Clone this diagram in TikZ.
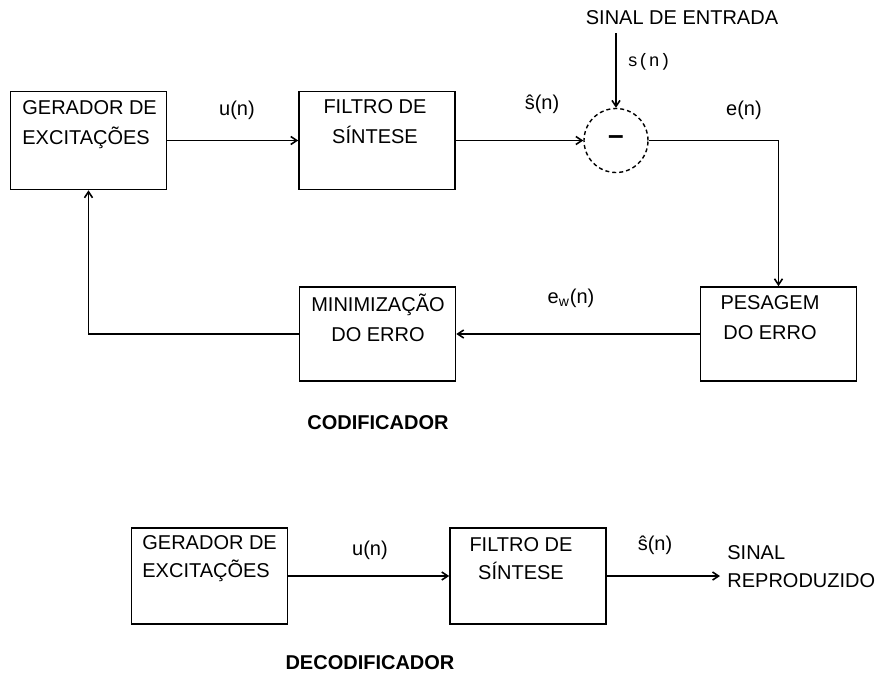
\documentclass[tikz,border=0pt]{standalone}
\usepackage{fontspec}
\setmainfont{Liberation Sans}
\setmonofont{Liberation Mono}
\usetikzlibrary{arrows.meta,positioning}

\begin{document}
\begin{tikzpicture}[x=0.5pt, y=-0.5pt, font=\fontsize{10}{15}\selectfont,
  blk/.style={draw, line width=0.8pt, inner sep=0pt, minimum width=78pt, minimum height=49pt},
  txt/.style={inner sep=0pt, align=center},
  arr/.style={line width=0.8pt, -{Straight Barb[length=3pt,width=4pt]}},
  sumc/.style={circle, draw, dash pattern=on 2pt off 1.5pt, line width=0.7pt,
    minimum size=32pt, inner sep=0pt, font=\fontsize{14}{14}\selectfont\bfseries}]
  \useasboundingbox (0,0) rectangle (885,682);

  % codificador
  \node[blk] (gen) at (88.5,140.5) {};
  \node[txt, align=left, anchor=west] (gentxt) at (22,125) {GERADOR DE\\EXCITAÇÕES};
  \node[blk] (filt) at (377,140.5) {};
  \node[txt] (filttxt) at (375,122) {FILTRO DE\\SÍNTESE};
  \node[sumc] (sum) at (616,140.5) {–};
  \node[txt] (entrada) at (682,18) {SINAL DE ENTRADA};
  \coordinate (in) at (616,33);
  \node[blk, minimum height=47pt] (pes) at (778.5,334) {};
  \node[txt] (pestxt) at (770,318) {PESAGEM\\DO ERRO};
  \node[blk, minimum height=47pt] (min) at (377.5,334) {};
  \node[txt] (mintxt) at (378,318) {MINIMIZAÇÃO\\DO ERRO};

  \draw[arr] (gen.east) -- (filt.west);
  \draw[arr] (filt.east) -- (sum.west);
  \draw[arr] (in) -- (sum.north);
  \draw[arr] (sum.east) -| (pes.north);
  \draw[arr] (pes.west) -- (min.east);
  \draw[arr] (min.west) -| (gen.south);

  \node[txt] (u1) at (237,110) {u(n)};
  \node[txt] (sh1) at (542,104) {ŝ(n)};
  \node[txt, font=\fontsize{9}{9}\selectfont\ttfamily] (s1) at (649,62) {s(n)};
  \node[txt] (e1) at (744,110) {e(n)};
  \node[txt] (ew1) at (571,298) {e\textsubscript{w}(n)};
  \node[txt, font=\fontsize{10}{10}\selectfont\bfseries] (cod) at (378,423) {CODIFICADOR};

  % decodificador
  \node[blk, minimum height=48pt] (dgen) at (209.5,576) {};
  \node[txt, align=left, anchor=west] (dgentxt) at (142,559) {GERADOR DE\\[-1pt]EXCITAÇÕES};
  \node[blk, minimum height=48pt] (dfilt) at (528,576) {};
  \node[txt] (dfilttxt) at (521,559) {FILTRO DE\\[-1pt]SÍNTESE};
  \coordinate (out) at (720,576);
  \node[txt, align=left, anchor=west] (rep) at (727,567) {SINAL\\[-1pt]REPRODUZIDO};

  \draw[arr] (dgen.east) -- (dfilt.west);
  \draw[arr] (dfilt.east) -- (out);

  \node[txt] (u2) at (370,550) {u(n)};
  \node[txt] (sh2) at (655,545) {ŝ(n)};
  \node[txt, font=\fontsize{10}{10}\selectfont\bfseries] (dec) at (370,663) {DECODIFICADOR};
\end{tikzpicture}
\end{document}
